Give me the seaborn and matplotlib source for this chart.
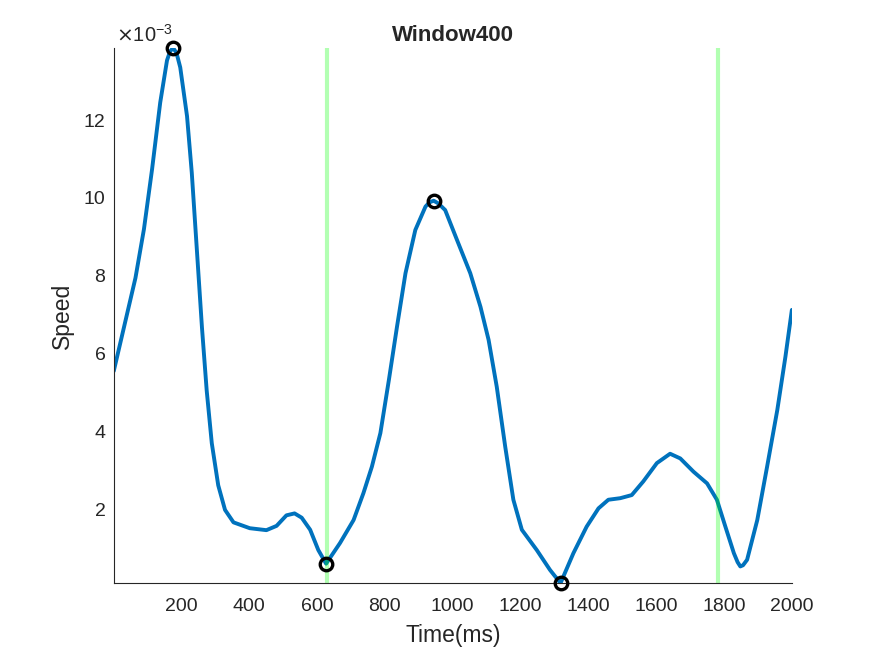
import matplotlib
matplotlib.use("Agg")
import matplotlib.pyplot as plt
import numpy as np
import pandas as pd
import seaborn as sns

# speed trace (values in units of 1e-3)
time_ms = [1, 31, 65, 90, 114, 138, 158, 167, 176, 186, 197, 217,
           231, 246, 261, 275, 290, 309, 329, 354, 402, 451,
           481, 510, 534, 555, 580, 604, 627, 668, 708, 737,
           762, 787, 812, 836, 861, 890, 920, 932, 944, 958, 978, 1013,
           1052, 1082, 1106, 1130, 1155, 1179, 1204, 1248, 1287, 1318,
           1356, 1395, 1430, 1459, 1494, 1528, 1562, 1602, 1641, 1671,
           1710, 1750, 1779, 1804, 1829, 1840, 1848, 1856, 1868, 1898, 1927, 1957,
           1981, 2000]
speed_e3 = [5.56, 6.68, 7.95, 9.20, 10.74, 12.45, 13.53, 13.76, 13.85, 13.72, 13.35, 12.10,
            10.65, 8.67, 6.68, 5.06, 3.71, 2.63, 2.00, 1.68, 1.53, 1.48,
            1.59, 1.86, 1.91, 1.80, 1.49, 0.97, 0.62, 1.15, 1.74, 2.43,
            3.11, 3.97, 5.33, 6.70, 8.07, 9.18, 9.78, 9.89, 9.93, 9.86, 9.69, 8.92,
            8.07, 7.21, 6.36, 5.16, 3.62, 2.26, 1.49, 0.97, 0.46, 0.12,
            0.89, 1.57, 2.04, 2.26, 2.30, 2.38, 2.73, 3.20, 3.44, 3.32,
            2.98, 2.68, 2.26, 1.57, 0.89, 0.66, 0.55, 0.58, 0.72, 1.74, 3.11, 4.56,
            5.93, 7.13]

# marked extrema and window boundaries
extrema_ms = [176, 627, 944, 1318]
boundary_ms = [631, 1782]

x_ticks = [200, 400, 600, 800, 1000, 1200, 1400, 1600, 1800, 2000]
y_ticks = [2, 4, 6, 8, 10, 12]

df = pd.DataFrame({"time": time_ms, "speed": np.array(speed_e3)})
ext = df[df["time"].isin(extrema_ms)]

sns.set_style("white")
plt.rcParams["font.family"] = ["Liberation Sans", "DejaVu Sans"]

fig = plt.figure(figsize=(8.75, 6.56), dpi=100)
ax = fig.add_axes([0.13, 0.111, 0.775, 0.816])

sns.lineplot(data=df, x="time", y="speed", color=(0, 0.447, 0.741),
             linewidth=2.8, ax=ax, sort=False, solid_joinstyle="round")
for b in boundary_ms:
    ax.axvline(b, color=(0, 1, 0), alpha=0.3, linewidth=3)
sns.lineplot(data=ext, x="time", y="speed", marker="o", linestyle="none",
             markersize=9, markerfacecolor="none", markeredgecolor="black",
             markeredgewidth=2.4, ax=ax, sort=False, clip_on=False, zorder=5)

ax.set_xlim(1, 2000)
ax.set_ylim(min(speed_e3), max(speed_e3))
ax.set_xticks(x_ticks)
ax.set_yticks(y_ticks)

dark = (0.15, 0.15, 0.15)
for side in ["top", "right"]:
    ax.spines[side].set_visible(False)
for side in ["left", "bottom"]:
    ax.spines[side].set_color(dark)
    ax.spines[side].set_linewidth(0.8)
ax.tick_params(direction="in", length=4.5, width=0.8, colors=dark,
               labelsize=14)
ax.tick_params(axis="x", pad=11)
ax.tick_params(axis="y", pad=6)

ax.set_xlabel("Time(ms)", fontsize=16.5, color=dark, labelpad=6)
ax.set_ylabel("Speed", fontsize=16.5, color=dark, labelpad=7)
ax.set_title("Window400", fontsize=16, fontweight="bold", pad=5)
ax.text(0.004, 1.003, r"$\times\mathregular{10^{-3}}$", transform=ax.transAxes,
        fontsize=14.5, color=dark, ha="left", va="bottom")

fig.savefig("out.png", dpi=100)
